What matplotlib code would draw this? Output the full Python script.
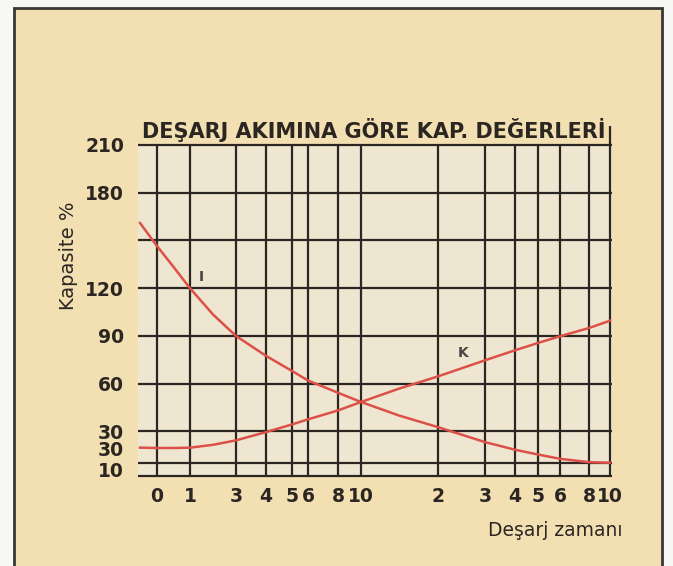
import matplotlib.pyplot as plt
import matplotlib as mpl
from matplotlib.patches import Rectangle

# fonts
mpl.rcParams['font.family'] = 'sans-serif'
mpl.rcParams['font.sans-serif'] = ['DejaVu Sans']
mpl.rcParams['font.weight'] = 'bold'

# x axis: grid positions (chart units) and their labels (minutes, then hours)
x_grid = [0, 33, 79, 109, 135, 151, 181, 204, 281, 328, 358, 381, 403, 432, 453]
x_labels = ['0', '1', '3', '4', '5', '6', '8', '10',
            '2', '3', '4', '5', '6', '8', '10']

# y axis: grid lines and printed labels
y_grid = [210, 180, 150, 120, 90, 60, 30, 10, 2]
y_label_pos = [210, 180, 120, 90, 60, 30, 19, 6]
y_labels = ['210', '180', '120', '90', '60', '30', '30', '10']

# curves (chart units, capacity %)
curve_x = [-17, 0, 17, 33, 56, 79, 109, 135, 151, 181, 204, 242,
           281, 328, 358, 381, 403, 432, 453]
curve_I = [161, 146.5, 133, 120, 103.5, 90, 77.5, 68, 62, 54.3, 48.5, 40,
           32.7, 23.3, 18.5, 15.5, 12.8, 10.7, 10.3]
curve_K = [19.8, 19.6, 19.6, 19.8, 21.6, 24.4, 29.6, 34.4, 37.6, 43.2, 48.5, 56.9,
           64.6, 74.7, 81, 85.6, 89.8, 95, 99.6]

red = '#dc5048'
ink = '#2b2622'
beige = '#f2dfb2'
panel = '#efe6d1'

fig = plt.figure(figsize=(6.73, 5.66), dpi=100, facecolor='#f7f7f6')

# outer framed panel
fig.patches.append(Rectangle((14 / 673, -0.05), 648 / 673, 1.05 - 8 / 566,
                             transform=fig.transFigure, facecolor=beige,
                             edgecolor='#3a3633', linewidth=2, zorder=-5))

ax = fig.add_axes([138 / 673, 1 - 476 / 566, 474 / 673, 331 / 566])
ax.set_facecolor(panel)
for s in ax.spines.values():
    s.set_visible(False)

ax.set_xlim(-19, 455)
ax.set_ylim(2, 210)

# grid
ax.hlines(y_grid, -19, 455, colors=ink, linewidth=1.6, clip_on=False, zorder=1)
ax.vlines(x_grid[:-1], 2, 210, colors=ink, linewidth=1.6, clip_on=False, zorder=1)
ax.vlines(x_grid[-1], 2, 222, colors=ink, linewidth=1.6, clip_on=False, zorder=1)

# curves
ax.plot(curve_x, curve_I, color=red, linewidth=1.8, zorder=3, solid_joinstyle='round')
ax.plot(curve_x, curve_K, color=red, linewidth=1.8, zorder=3, solid_joinstyle='round')
ax.text(44, 127, 'I', fontsize=10, color='#4a4540', ha='center', va='center')
ax.text(306, 79, 'K', fontsize=10, color='#4a4540', ha='center', va='center')

# ticks
ax.set_xticks(x_grid)
ax.set_xticklabels(x_labels, fontsize=13.5, color=ink)
ax.set_yticks(y_label_pos)
ax.set_yticklabels(y_labels, fontsize=13.5, color=ink)
ax.tick_params(length=0, pad=8)
ax.tick_params(axis='y', pad=10)

# labels and title
fig.text(68 / 673, 1 - 256 / 566, 'Kapasite %', rotation=90, fontsize=14,
         color=ink, ha='center', va='center', fontweight='normal')
fig.text(622 / 673, 1 - 531 / 566, 'Deşarj zamanı', fontsize=13.5,
         color=ink, ha='right', va='center', fontweight='normal')
fig.text(374 / 673, 1 - 130 / 566, 'DEŞARJ AKIMINA GÖRE KAP. DEĞERLERİ',
         fontsize=15, color=ink, ha='center', va='center')

fig.savefig('out.png', dpi=100, facecolor=fig.get_facecolor())
